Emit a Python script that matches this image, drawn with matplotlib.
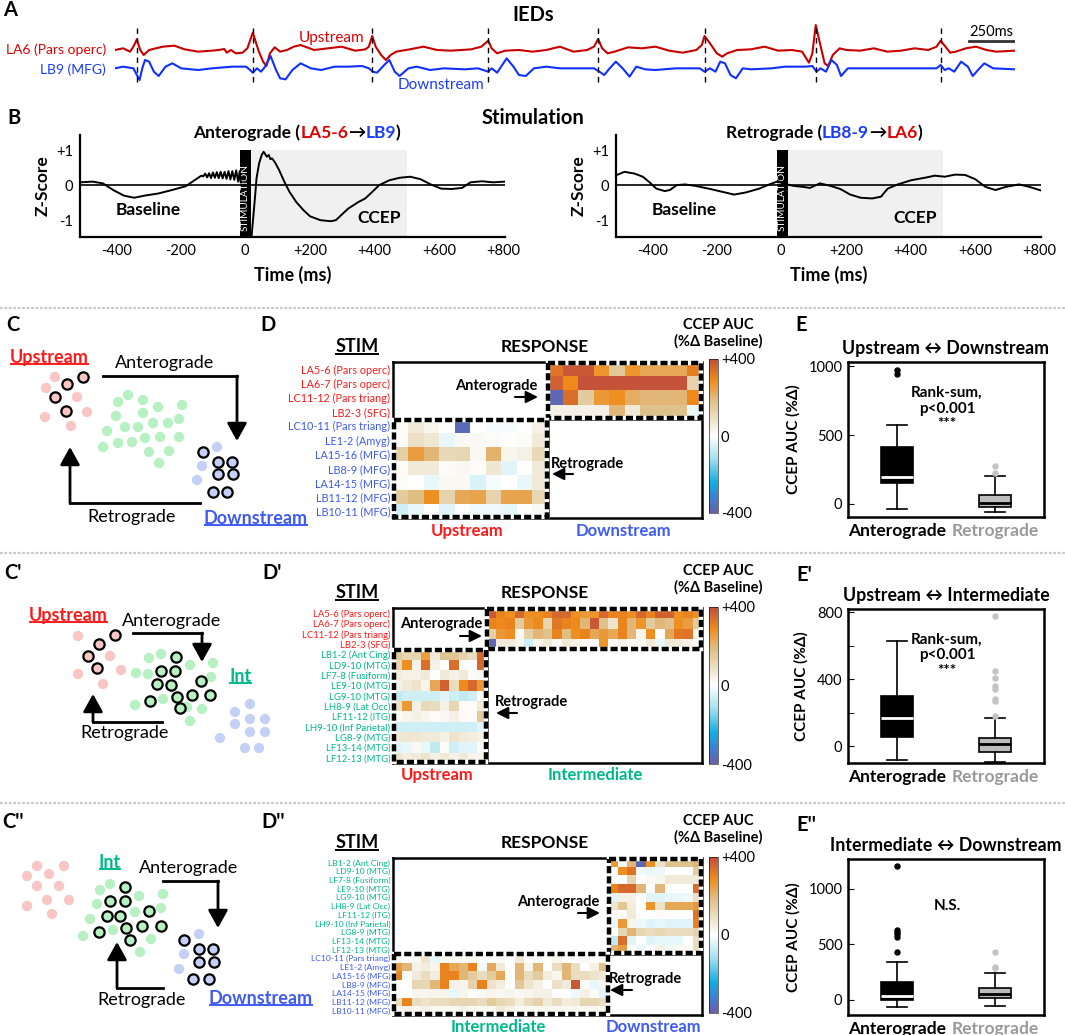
import numpy as np
import matplotlib
matplotlib.use('Agg')
import matplotlib.pyplot as plt
from matplotlib.colors import LinearSegmentedColormap
from matplotlib.patches import Rectangle

W, H = 1065, 1035
FAM = ['Lato', 'DejaVu Sans']
plt.rcParams['font.family'] = FAM

RED = '#ff1a1a'
BLUE = '#3f5bf2'
GREEN = '#00b98a'

# ---------------- A: IED traces (sample index @ 260 Hz, amplitude a.u.)
fs = 260
red_trace = [(0, 2), (12, 7), (22, -3), (27, 12), (32, 34), (37, 2), (42, -13), (50, 2), (60, 7), (70, 12),
             (87, 15), (102, 4), (122, -3), (142, 0), (152, 2), (160, 5), (164, -6), (170, 2), (177, -8),
             (187, -6), (194, 7), (202, 54), (210, 2), (217, -33), (222, -46), (227, -8), (234, 10), (242, -3),
             (252, 2), (262, 12), (272, 17), (292, 2), (312, 7), (332, 12), (352, 0), (367, 4), (372, 12),
             (377, 44), (382, 12), (390, -13), (397, -28), (404, -13), (412, -3), (432, 4), (452, 12), (472, 2),
             (492, 0), (522, 4), (537, 12), (547, 30), (552, 7), (560, -8), (572, 0), (592, 2), (612, -3),
             (632, 2), (652, 12), (672, -3), (692, 2), (702, 12), (708, 35), (714, 7), (722, -8), (732, -3),
             (752, 10), (772, 7), (792, 12), (812, 0), (832, -6), (852, 2), (860, 17), (864, 44), (872, 22),
             (882, -8), (890, -18), (897, -8), (912, 2), (932, 4), (952, 12), (972, 0), (992, 2), (1007, -3),
             (1017, -36), (1022, -8), (1027, 77), (1032, 32), (1040, -38), (1045, -46), (1052, -13), (1062, 7),
             (1072, 2), (1092, 0), (1112, 7), (1132, -3), (1152, 0), (1172, 7), (1192, 2), (1204, 12),
             (1210, 30), (1217, 12), (1224, -6), (1232, -3), (1247, 7), (1262, 12), (1277, 2), (1292, -3),
             (1319, 0)]
blue_trace = [(0, 0), (12, 5), (27, 0), (32, -20), (36, -35), (40, 0), (44, 25), (50, 20), (57, -10), (64, -23),
              (74, 5), (84, 15), (97, 0), (122, -5), (142, 0), (172, 5), (192, 5), (198, -5), (202, -13),
              (208, 0), (214, -10), (220, 5), (228, 37), (236, -5), (242, -30), (250, -33), (260, -5), (272, 15),
              (287, 0), (302, -5), (322, 5), (342, 5), (362, 7), (372, 0), (378, -10), (384, -13), (390, 0),
              (397, 15), (402, 25), (410, -10), (417, -23), (430, 0), (442, 5), (462, -5), (482, 0), (512, -3),
              (532, 0), (547, -10), (552, 0), (560, -13), (574, 30), (584, 5), (592, -20), (602, -23), (614, 0),
              (632, 5), (652, 0), (682, 0), (702, 0), (710, -10), (717, -20), (725, 0), (734, 20), (744, 0),
              (754, -25), (764, 5), (777, -3), (792, -5), (822, 0), (842, 0), (857, 0), (864, -10), (872, 0),
              (880, -10), (887, 20), (894, 15), (902, -20), (910, -30), (920, 0), (932, -3), (962, 0), (982, 5),
              (1012, 5), (1022, 7), (1028, -10), (1034, 0), (1042, -10), (1050, 25), (1058, 10), (1064, -23),
              (1074, 0), (1092, 0), (1132, 0), (1162, 0), (1192, 0), (1204, 0), (1210, 10), (1216, -5),
              (1222, 0), (1230, -10), (1240, 20), (1250, 5), (1257, -23), (1267, 0), (1274, 15), (1287, 0),
              (1319, -3)]
ied_s = [32, 202, 377, 547, 708, 864, 1027, 1210]

# ---------------- B: CCEP z-score traces (ms, z)
ante_pre = [(-512, 0.08), (-473, 0.1), (-441, 0.05), (-409, -0.14), (-376, -0.3), (-344, -0.36), (-312, -0.3),
            (-270, -0.24), (-227, -0.14), (-184, -0.03), (-157, 0.14), (-136, 0.27), (-130, 0.25), (-124, 0.33),
            (-118, 0.22), (-112, 0.34), (-106, 0.2), (-100, 0.36), (-94, 0.21), (-88, 0.37), (-82, 0.2),
            (-76, 0.38), (-70, 0.19), (-64, 0.38), (-58, 0.18), (-52, 0.4), (-46, 0.16), (-40, 0.4), (-34, 0.15),
            (-28, 0.42), (-22, 0.1), (-17, 0.4), (-14, 0.08)]
ante_post = [(20, -1.43), (25, -0.9), (30, -0.38), (35, 0.19), (43, 0.62), (51, 0.86), (57, 0.95), (62, 0.88),
             (67, 0.81), (73, 0.86), (78, 0.74), (83, 0.76), (89, 0.69), (94, 0.62), (105, 0.43), (121, 0.1),
             (137, -0.19), (158, -0.48), (180, -0.71), (201, -0.89), (233, -1.0), (265, -1.03), (281, -1.0),
             (297, -0.86), (319, -0.67), (351, -0.48), (372, -0.38), (394, -0.19), (415, 0.0), (447, 0.14),
             (479, 0.21), (511, 0.24), (543, 0.17), (575, 0.02), (607, -0.1), (640, -0.11), (672, -0.08),
             (698, 0.08), (734, 0.11), (768, 0.08), (805, 0.1)]
retro = [(-509, 0.29), (-486, 0.38), (-455, 0.33), (-429, 0.24), (-408, 0.08), (-387, -0.1), (-361, -0.17),
         (-345, -0.14), (-324, 0.0), (-298, 0.02), (-267, -0.02), (-225, -0.1), (-183, -0.19), (-146, -0.27),
         (-110, -0.21), (-68, -0.1), (-37, 0.02), (-10, 0.11), (5, 0.05), (37, -0.02), (68, -0.05), (89, -0.08),
         (120, 0.05), (152, -0.02), (183, -0.11), (214, -0.27), (246, -0.36), (282, -0.38), (309, -0.33),
         (330, -0.1), (361, 0.02), (403, 0.14), (445, 0.21), (476, 0.27), (507, 0.24), (539, 0.3), (570, 0.29),
         (601, 0.17), (633, -0.05), (664, -0.14), (696, -0.05), (737, 0.02), (769, -0.05), (811, -0.17)]
b_xticks = [-400, -200, 0, 200, 400, 600, 800]
b_xlabels = ['-400', '-200', '0', '+200', '+400', '+600', '+800']

# ---------------- D: CCEP AUC matrices (% change from baseline)
up_rows = ['LA5-6 (Pars operc)', 'LA6-7 (Pars operc)', 'LC11-12 (Pars triang)', 'LB2-3 (SFG)']
down_rows = ['LC10-11 (Pars triang)', 'LE1-2 (Amyg)', 'LA15-16 (MFG)', 'LB8-9 (MFG)', 'LA14-15 (MFG)',
             'LB11-12 (MFG)', 'LB10-11 (MFG)']
int_rows = ['LB1-2 (Ant Cing)', 'LD9-10 (MTG)', 'LF7-8 (Fusiform)', 'LE9-10 (MTG)', 'LG9-10 (MTG)',
            'LH8-9 (Lat Occ)', 'LF11-12 (ITG)', 'LH9-10 (Inf Parietal)', 'LG8-9 (MTG)', 'LF13-14 (MTG)',
            'LF12-13 (MTG)']

D_ant = [[330, 380, 380, 270, 160, 270, 230, 230, 230, 310],
         [360, 290, 390, 390, 390, 390, 390, 390, 390, 130],
         [-380, 340, 150, 260, 280, 220, 200, 200, 200, 290],
         [40, 40, 40, 40, 200, 60, 180, 180, 180, -30]]
D_ret = [[10, 60, 30, 0, -370, 0, -10, -10, 0, 40],
         [10, 90, 70, -30, 20, 20, 10, 0, 10, 60],
         [140, 250, 200, 110, 120, 20, 210, 30, 40, 110],
         [10, 60, 60, 10, 20, 10, 70, -40, 0, 60],
         [10, 0, -30, 20, 20, -50, -10, 0, -30, 60],
         [150, 190, 280, 130, 230, 240, 130, 240, 240, 120],
         [-60, -30, 0, -40, 0, -20, -20, -30, 0, 20]]

D1_ant = [[380, 300, 280, 350, 280, 280, 300, 350, 350, 280, 260, 270, 350, 300, 300, 280, 350, 300, 360, 360, 280, 300, 280],
          [300, 290, 300, 150, 260, 290, 120, 320, 300, 290, 200, 380, 180, 80, 300, 200, 270, 150, 200, 180, 280, 250, 150],
          [140, 260, 280, 20, 140, 200, 180, 300, 190, 280, 300, 230, 260, 230, 300, 200, 30, 280, 0, 230, 320, 330, 30],
          [-380, 60, 60, 30, -60, 30, 60, 10, 60, 40, 20, 0, 270, 20, 40, 20, 20, 60, -30, 60, 60, 40, 20]]
D1_ret = [[150, 120, 120, 250, 60, 170, 170, 130, 100, 350],
          [120, 280, 40, 340, 40, 0, 340, 0, 0, 350],
          [50, 40, 40, 60, 0, 60, 40, 60, 10, 20],
          [40, 60, 80, 30, 230, 360, 100, 290, 350, 260],
          [-80, -60, -60, -60, -60, -40, -60, -80, -60, 10],
          [90, 260, 40, 110, 100, 40, 120, 10, 10, 60],
          [10, 30, 40, 30, 10, 20, 40, 10, 10, 150],
          [-60, -60, -60, -60, -60, -60, -60, -60, -60, -40],
          [60, 70, 70, 60, 60, 40, 80, 60, 50, 40],
          [-40, -30, 20, -30, -80, 10, -60, -40, -40, 10],
          [70, 50, 60, 80, 40, 60, 40, 60, 30, 30]]

D2_ant = [[260, 20, 200, -380, 280, 80, 180, 180, 180, 200],
          [0, 280, 330, -20, -30, -20, 0, 0, 0, 150],
          [0, 0, 120, 0, 20, 30, 60, 60, 60, 60],
          [300, 350, 350, 200, 0, 200, 0, 0, 0, 340],
          [-40, 40, 40, 10, -40, -40, -30, -30, -20, 90],
          [80, 160, 50, 0, 270, 80, 230, 230, 230, 260],
          [20, 0, 60, 0, 0, 10, 0, 0, 0, 330],
          [-30, 260, 30, -20, -40, -30, -40, -40, -40, 300],
          [0, 120, 200, 120, 100, 120, 100, 100, 100, 130],
          [-80, 340, -40, 0, -40, -30, -30, -30, 0, 100],
          [200, 250, 0, -20, 0, 40, -20, 20, 20, 100]]
D2_ret = [[20, 0, 20, 80, -30, 20, 20, 20, 20, 0, 0, 20, 0, 60, 0, 20, 0, 30, 0, 0, 20, 0, 20],
          [250, 200, 40, 50, 30, 300, 230, 200, 300, -20, 230, 60, 0, 200, 30, 200, 0, 100, 200, 100, 0, 40, 180],
          [300, 0, 60, 100, 50, 300, 300, 200, 150, 100, 150, 230, 0, 200, 100, 150, 50, 30, 200, 100, 100, 80, 60],
          [0, 0, 120, 120, 200, 300, 40, 30, 130, 300, 80, 50, 0, 160, 80, 40, 0, 90, 60, 380, 10, -30, 30],
          [0, 0, 30, 30, 30, 30, -30, 30, 0, 20, 30, 20, 30, 20, 30, 40, 40, 0, 0, -20, 40, 10, -40],
          [100, 300, 100, 80, 100, 100, 120, 120, 120, 100, 150, 120, 100, 50, 100, 130, 60, 100, 50, 60, 120, 120, 100],
          [20, 40, 20, 40, 20, 20, 20, 40, 20, 20, 20, 60, 40, 20, 20, 20, 30, 20, 20, 20, 20, 20, 20]]

# ---------------- E: box-plot summaries [whislo, q1, med, q3, whishi] and outliers
E_ant, E_ant_out = [-36, 150, 195, 413, 570], [940, 970]
E_ret, E_ret_out = [-60, -25, 5, 68, 205], [225, 275]
E1_ant, E1_ant_out = [-84, 55, 171, 297, 627], []
E1_ret, E1_ret_out = [-92, -32, 12, 51, 167], [181, 268, 281, 341, 361, 406, 451, 776]
E2_ant, E2_ant_out = [-67, 0, 39, 158, 338], [428, 563, 590, 608, 632, 1206]
E2_ret, E2_ret_out = [-51, 18, 54, 108, 243], [285, 300, 428]

# ---------------- C: schematic electrode clusters
C_pink = [(46, 388), (55, 377), (77, 397), (87, 412), (45, 417), (71, 426)]
C_pink_e = [(83, 377), (67, 384), (55, 397), (66, 411)]
C_green = [(128, 395), (118, 402), (143, 400), (158, 407), (182, 405), (116, 416), (143, 413), (168, 423),
           (179, 419), (107, 431), (125, 427), (138, 427), (153, 423), (118, 443), (132, 442), (145, 438),
           (160, 437), (179, 437), (103, 447), (149, 452), (169, 451), (159, 463)]
C_blue = [(217, 447), (202, 466), (197, 480)]
C_blue_e = [(203, 452), (218, 462), (232, 462), (218, 474), (233, 474), (213, 492), (227, 492)]

C1_pink = [(78, 636), (110, 656), (121, 670), (78, 674), (103, 684)]
C1_pink_e = [(115, 635), (99, 644), (88, 656), (97, 668)]
C1_green = [(149, 658), (161, 654), (136, 673), (148, 674), (190, 665), (213, 663), (211, 677), (135, 705),
            (163, 699), (187, 707), (202, 709), (190, 721)]
C1_green_e = [(176, 657), (161, 671), (175, 671), (201, 681), (157, 684), (171, 685), (192, 695), (210, 695),
              (150, 701), (177, 697), (180, 708)]
C1_blue = [(250, 704), (235, 712), (250, 719), (265, 719), (235, 724), (250, 732), (265, 732), (220, 738),
           (245, 748), (259, 748)]

C2_pink = [(37, 866), (64, 866), (27, 876), (49, 874), (37, 886), (59, 886), (27, 906), (47, 900), (69, 900),
           (52, 914)]
C2_green = [(110, 884), (100, 890), (97, 904), (139, 896), (163, 894), (161, 908), (135, 912), (90, 919),
            (83, 936), (113, 930), (151, 939), (140, 952)]
C2_green_e = [(125, 887), (110, 901), (125, 901), (107, 916), (120, 916), (149, 911), (126, 928), (142, 926),
              (161, 926), (99, 932), (130, 940)]
C2_blue = [(199, 934), (184, 954), (179, 969)]
C2_blue_e = [(184, 940), (199, 949), (213, 949), (199, 962), (214, 962), (193, 979), (209, 979)]

PINK, LGREEN, LBLUE = '#f9c6c6', '#b6f0c3', '#c5d0f6'

fig = plt.figure(figsize=(W / 100, H / 100), dpi=100)
rend = fig.canvas.get_renderer()


def px_axes(l, t, r, b):
    return fig.add_axes([l / W, 1 - b / H, (r - l) / W, (b - t) / H])


# ---------------- A
axA = px_axes(115, 18, 1015, 95)
rs, rv = np.array(red_trace, float).T
bs, bv = np.array(blue_trace, float).T
axA.plot(rs / fs * 1000, rv, color='#c80000', lw=1.5)
axA.plot(bs / fs * 1000, bv - 53, color='#1030ff', lw=1.5)
axA.vlines(np.array(ied_s) / fs * 1000, -93, 67, colors='k', lw=1, linestyles=(0, (4, 3)))
axA.plot([4815, 5065], [29, 29], color='#333333', lw=2)
axA.text(4940, 55, '250ms', ha='center', va='center', fontsize=10.5)
axA.text(1219, 37, 'Upstream', color='#e00000', ha='center', va='center', fontsize=11)
axA.text(1835, -103, 'Downstream', color='#1a3cff', ha='center', va='center', fontsize=11)
axA.set_xlim(0, 1319 / fs * 1000)
axA.set_ylim(-133, 98)
axA.axis('off')

# ---------------- B
for off, traces, bar in [(0, [ante_pre, ante_post], (-15, 17)), (536, [retro], (-13, 21))]:
    ax = px_axes(80 + off, 135, 505 + off, 237)
    ax.set_xlim(-512, 805)
    ax.set_ylim(-1.48, 1.43)
    ax.add_patch(Rectangle((bar[1], -1.48), 500 - bar[1], 2.48, color='#f0f0f0', lw=0, zorder=0))
    ax.add_patch(Rectangle((bar[0], -1.48), bar[1] - bar[0], 2.48, color='k', lw=0, zorder=1))
    ax.text(sum(bar) / 2, -0.35, 'STIMULATION', rotation=90, color='white', fontsize=7.2,
            ha='center', va='center', zorder=2)
    ax.axhline(0, color='k', lw=1.2, zorder=2)
    for tr in traces:
        tt, zz = np.array(tr).T
        ax.plot(tt, zz, color='k', lw=1.4, zorder=3)
    ax.text(-300, -0.7, 'Baseline', fontsize=12.5, fontweight='bold', ha='center', va='center')
    ax.text(415, -0.95, 'CCEP', fontsize=12.5, fontweight='bold', ha='center', va='center')
    for s in ['top', 'right']:
        ax.spines[s].set_visible(False)
    for s in ['left', 'bottom']:
        ax.spines[s].set_linewidth(1.6)
    ax.set_xticks(b_xticks, b_xlabels)
    ax.set_yticks([-1, 0, 1], ['-1', '0', '+1'])
    ax.tick_params(length=0, labelsize=10.5, pad=5)
    ax.set_xlabel('Time (ms)', fontsize=13, fontweight='bold', labelpad=6)
    ax.set_ylabel('Z-Score', fontsize=12.5, fontweight='bold', labelpad=4)

# ---------------- D heatmaps
cmap = LinearSegmentedColormap.from_list('ccep', [
    (0.0, '#6a5fa8'), (0.1, '#3d80d4'), (0.2, '#12aee3'), (0.35, '#a2e0ee'), (0.5, '#ffffff'),
    (0.62, '#ebdfc2'), (0.73, '#dfc08a'), (0.86, '#f08c1a'), (1.0, '#c04e3c')])
cmap.set_bad('white')


def heatmap(top, bottom, cb, rows, colors, ant, ret, sizes):
    ant, ret = np.array(ant, float), np.array(ret, float)
    na, nr = ant.shape[0], ret.shape[0]
    ncol = ret.shape[1] + ant.shape[1]
    split = ret.shape[1]
    M = np.full((na + nr, ncol), np.nan)
    M[:na, split:] = ant
    M[na:, :split] = ret
    ax = px_axes(393, top, 702, bottom)
    im = ax.imshow(M, cmap=cmap, vmin=-400, vmax=400, aspect='auto', interpolation='nearest',
                   extent=(0, ncol, na + nr, 0))
    ax.set_yticks(np.arange(na + nr) + 0.5, rows)
    for lab, c in zip(ax.get_yticklabels(), colors):
        lab.set_color(c)
    ax.set_xticks([])
    ax.tick_params(length=0, labelsize=sizes, pad=2)
    for s in ax.spines.values():
        s.set_linewidth(1.8)
    ax.plot([split, split], [0, na + nr], color='k', lw=1.8)
    ax.plot([0, ncol], [na, na], color='k', lw=1.8)
    for (x0, y0, w, h) in [(split, 0, ncol - split, na), (0, na, split, nr)]:
        for col, ls in [('white', '-'), ('k', (0, (1.6, 0.7)))]:
            ax.add_patch(Rectangle((x0 + 0.06, y0 + 0.06), w - 0.12, h - 0.12, fill=False, ec=col,
                                   lw=3.2, ls=ls, zorder=5, clip_on=False))
    cax = px_axes(709, cb[0], 718, cb[1])
    cbar = fig.colorbar(im, cax=cax, ticks=[-400, 0, 400])
    cbar.ax.set_yticklabels(['-400', '0', '+400'])
    cbar.ax.tick_params(length=0, labelsize=10.5, pad=2)
    cbar.outline.set_linewidth(0.4)
    return ax


heatmap(362, 518, (359, 513), up_rows + down_rows, [RED] * 4 + [BLUE] * 7, D_ant, D_ret, 7.8)
heatmap(608, 763, (607, 764), up_rows + int_rows, [RED] * 4 + [GREEN] * 11, D1_ant, D1_ret, 6.8)
heatmap(858, 1015, (857, 1013), int_rows + down_rows, [GREEN] * 11 + [BLUE] * 7, D2_ant, D2_ret, 6.1)

# ---------------- E box plots


def boxes(top, bottom, ylim, ticks, minor, ant, ant_out, ret, ret_out, title, note):
    ax = px_axes(848, top, 1044, bottom)
    for pos, st, fl, face, med, fc in [(1, ant, ant_out, 'k', 'white', 'k'),
                                       (2, ret, ret_out, '#bdbdbd', 'k', '#c4c4c4')]:
        stats = [dict(whislo=st[0], q1=st[1], med=st[2], q3=st[3], whishi=st[4], fliers=fl)]
        ax.bxp(stats, positions=[pos], widths=0.32, patch_artist=True, capwidths=[0.2],
               boxprops=dict(facecolor=face, edgecolor='k', lw=1.2),
               medianprops=dict(color=med, lw=2),
               whiskerprops=dict(color='k', lw=1.2), capprops=dict(color='k', lw=1.2),
               flierprops=dict(marker='o', markersize=3.6, markerfacecolor=fc, markeredgecolor=fc))
    ax.set_xlim(0.5, 2.5)
    ax.set_ylim(*ylim)
    ax.set_yticks(ticks)
    ax.set_yticks(minor, minor=True)
    ax.set_xticks([1, 2], ['Anterograde', 'Retrograde'])
    ax.get_xticklabels()[1].set_color('#999999')
    ax.tick_params(axis='x', length=0, labelsize=12.5, pad=4)
    for lab in ax.get_xticklabels():
        lab.set_fontweight('bold')
    ax.tick_params(axis='y', which='both', direction='in', length=4, labelsize=10.5, pad=4)
    for s in ax.spines.values():
        s.set_linewidth(1.8)
    ax.set_ylabel('CCEP AUC (%Δ)', fontsize=11, fontweight='bold', labelpad=6)
    ax.set_title(title, fontsize=12.8, fontweight='bold', pad=6)
    ax.text(1.51, ylim[1] - (ylim[1] - ylim[0]) * 0.3, note, ha='center', va='center', fontsize=11,
            fontweight='bold', linespacing=1.15)
    return ax


boxes(362, 517, (-95, 1030), [0, 500, 1000], [], E_ant, E_ant_out, E_ret, E_ret_out,
      'Upstream ↔ Downstream', 'Rank-sum,\np<0.001\n***')
boxes(609, 763, (-100, 818), [0, 400, 800], [200, 600], E1_ant, E1_ant_out, E1_ret, E1_ret_out,
      'Upstream ↔ Intermediate', 'Rank-sum,\np<0.001\n***')
boxes(859, 1015, (-135, 1265), [0, 500, 1000], [], E2_ant, E2_ant_out, E2_ret, E2_ret_out,
      'Intermediate ↔ Downstream', 'N.S.')

# ---------------- overlay (pixel coordinates) for labels and schematics
ov = fig.add_axes([0, 0, 1, 1])
ov.set_xlim(0, W)
ov.set_ylim(H, 0)
ov.axis('off')


def txt(x, y, s, size, weight='bold', color='k', ha='center'):
    return ov.text(x, y, s, fontsize=size, fontweight=weight, color=color, ha=ha, va='center')


def under(x, y, s, size, color):
    t = txt(x, y, s, size, color=color)
    bb = t.get_window_extent(rend)
    ov.plot([bb.x0 + 1, bb.x1 - 1], [H - bb.y0 - 2, H - bb.y0 - 2], color=color, lw=1.4)


def ctext(x, y, parts, size):
    ts = [ov.text(0, y, s, color=c, fontsize=size, fontweight='bold', ha='left', va='center')
          for s, c in parts]
    ws = [t.get_window_extent(rend).width for t in ts]
    x0 = x - sum(ws) / 2
    for t, w in zip(ts, ws):
        t.set_x(x0)
        x0 += w


def elbow(pts, lw=2.0, scale=12):
    xs, ys = zip(*pts[:-1])
    ov.plot(xs, ys, color='k', lw=lw, solid_capstyle='projecting')
    ov.annotate('', xy=pts[-1], xytext=pts[-2],
                arrowprops=dict(arrowstyle='-|>,head_length=0.9,head_width=0.5', lw=lw, color='k',
                                shrinkA=0, shrinkB=0, mutation_scale=scale))


def dots(pts, face, edge=False):
    x, y = np.array(pts).T
    ov.scatter(x, y, s=55, c=face, edgecolors='k' if edge else 'none', linewidths=1.6 if edge else 0,
               zorder=3)


# separators
for y in [308, 553, 803]:
    ov.plot([0, W], [y, y], color='#c8c8c8', lw=1.6, ls=(0, (1.2, 0.8)))

# panel letters
for s, x, y in [('A', 10, 10), ('B', 14, 118), ('C', 13, 325), ('D', 268, 325), ('E', 801, 325),
                ("C'", 13, 573), ("D'", 272, 573), ("E'", 804, 575), ("C''", 13, 822), ("D''", 273, 822),
                ("E''", 806, 825)]:
    txt(x, y, s, 14.5)

txt(533, 15, 'IEDs', 14.5)
ov.text(106, 50, 'LA6 (Pars operc)', color='#e00000', fontsize=10, ha='right', va='center')
ov.text(106, 70, 'LB9 (MFG)', color='#1a3cff', fontsize=10, ha='right', va='center')

txt(533, 118, 'Stimulation', 14.5)
ctext(297, 133, [('Anterograde (', 'k'), ('LA5-6', '#e00000'), ('→', 'k'), ('LB9', '#1a3cff'), (')', 'k')], 12.5)
ctext(824, 133, [('Retrograde (', 'k'), ('LB8-9', '#1a3cff'), ('→', 'k'), ('LA6', '#e00000'), (')', 'k')], 12.5)

# C schematics
dots(C_pink, PINK); dots(C_pink_e, PINK, True); dots(C_green, LGREEN)
dots(C_blue, LBLUE); dots(C_blue_e, LBLUE, True)
under(49.5, 357, 'Upstream', 13, RED)
txt(165, 363, 'Anterograde', 13, 'normal')
txt(132, 517, 'Retrograde', 13, 'normal')
under(256, 518, 'Downstream', 13, BLUE)
elbow([(103, 376), (237, 376), (237, 441)])
elbow([(200, 503), (70, 503), (70, 447)])

dots(C1_pink, PINK); dots(C1_pink_e, PINK, True); dots(C1_green, LGREEN)
dots(C1_green_e, LGREEN, True); dots(C1_blue, LBLUE)
under(68.5, 615, 'Upstream', 13, RED)
txt(171.5, 621, 'Anterograde', 13, 'normal')
txt(124.5, 733, 'Retrograde', 13, 'normal')
under(240.5, 676, 'Int', 13, GREEN)
elbow([(133, 633), (202, 633), (202, 662)])
elbow([(162, 722), (93, 722), (93, 694)])

dots(C2_pink, PINK); dots(C2_green, LGREEN); dots(C2_green_e, LGREEN, True)
dots(C2_blue, LBLUE); dots(C2_blue_e, LBLUE, True)
under(110, 862, 'Int', 13, GREEN)
txt(188.5, 868, 'Anterograde', 13, 'normal')
txt(141.5, 1000, 'Retrograde', 13, 'normal')
under(261, 998, 'Downstream', 13, BLUE)
elbow([(163, 881), (218, 881), (218, 928)])
elbow([(163, 988), (117, 988), (117, 942)])

# D labels
for y0, lab_ant, ant_xy, arr_a, lab_ret, ret_xy, arr_r, bottoms in [
        (347, 'Anterograde', (496, 386), ((515, 397), (538, 397)), 'Retrograde', (588, 464),
         ((573, 474), (552, 474)), [('Upstream', 467, RED), ('Downstream', 623, BLUE)]),
        (593, 'Anterograde', (441, 624), ((460, 636), (482, 636)), 'Retrograde', (532, 702),
         ((517, 713), (496, 713)), [('Upstream', 437, RED), ('Intermediate', 595, GREEN)]),
        (843, 'Anterograde', (558, 902), ((578, 913), (600, 913)), 'Retrograde', (646, 979),
         ((632, 990), (610, 990)), [('Intermediate', 498, GREEN), ('Downstream', 653, BLUE)])]:
    under(357, y0, 'STIM', 13, 'k')
    txt(545, y0, 'RESPONSE', 12.5)
    txt(718, y0 - 22, 'CCEP AUC', 10.5)
    txt(718, y0 - 6, '(%Δ Baseline)', 10.5)
    txt(ant_xy[0], ant_xy[1], lab_ant, 10.5)
    txt(ret_xy[0], ret_xy[1], lab_ret, 10.5)
    for a in [arr_a, arr_r]:
        ov.annotate('', xy=a[1], xytext=a[0],
                    arrowprops=dict(arrowstyle='-|>,head_length=0.8,head_width=0.4', lw=1.5, color='k',
                                    shrinkA=0, shrinkB=0, mutation_scale=9))
    yb = {347: 531, 593: 775, 843: 1027}[y0]
    for s, x, c in bottoms:
        txt(x, yb, s, 12, color=c)

fig.savefig('out.png', dpi=100)
